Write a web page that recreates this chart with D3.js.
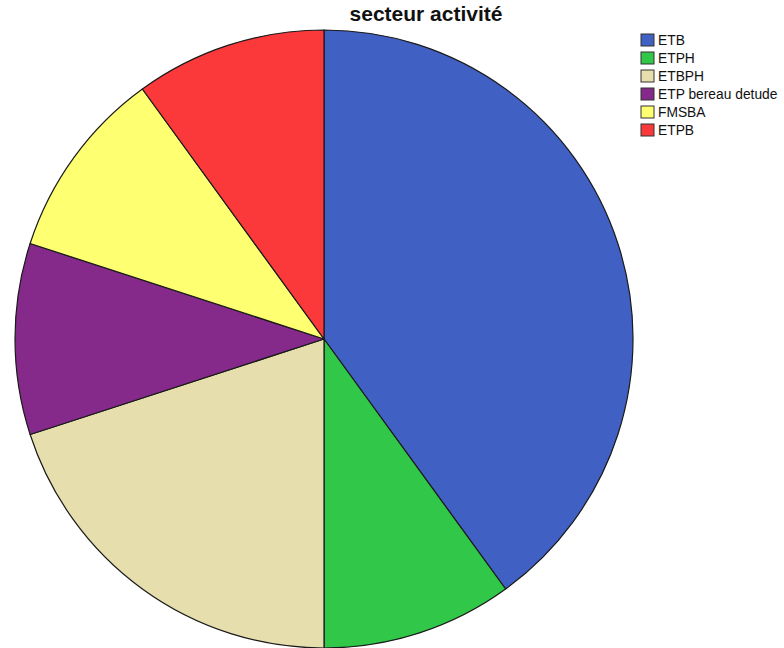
<!DOCTYPE html>
<html>
<head>
<meta charset="utf-8">
<script src="https://cdn.jsdelivr.net/npm/d3@7"></script>
<style>
  body { margin: 0; background: #fff; }
  svg { display: block; }
</style>
</head>
<body>
<svg id="chart" width="784" height="648"></svg>
<script>
// Sector categories and counts
const categories = ["ETB", "ETPH", "ETBPH", "ETP bereau detude", "FMSBA", "ETPB"];
const counts = [4, 1, 2, 1, 1, 1];
const colors = ["#4160c4", "#31c84a", "#e6dfad", "#852a8a", "#ffff72", "#fb393b"];
const title = "secteur activité";

const svg = d3.select("#chart");
const cx = 324, cy = 339, radius = 309;

const pie = d3.pie().sort(null).value(d => d.value);
const arc = d3.arc().innerRadius(0).outerRadius(radius);
const color = d3.scaleOrdinal().domain(categories).range(colors);

const data = categories.map((c, i) => ({ name: c, value: counts[i] }));

svg.append("g")
  .attr("transform", `translate(${cx},${cy})`)
  .selectAll("path")
  .data(pie(data))
  .join("path")
  .attr("d", arc)
  .attr("fill", d => color(d.data.name))
  .attr("stroke", "#1a1a1a")
  .attr("stroke-width", 1.2)
  .attr("stroke-linejoin", "round");

svg.append("text")
  .attr("x", 426)
  .attr("y", 21)
  .attr("text-anchor", "middle")
  .attr("font-family", "Liberation Sans, Arial, sans-serif")
  .attr("font-weight", "bold")
  .attr("font-size", 21)
  .attr("fill", "#111")
  .text(title);

// Legend
const legend = svg.append("g").attr("transform", "translate(641,34)");
const rows = legend.selectAll("g")
  .data(categories)
  .join("g")
  .attr("transform", (d, i) => `translate(0,${i * 18})`);
rows.append("rect")
  .attr("width", 13)
  .attr("height", 12)
  .attr("fill", d => color(d))
  .attr("stroke", "#333")
  .attr("stroke-width", 1);
rows.append("text")
  .attr("x", 17)
  .attr("y", 11)
  .attr("font-family", "Liberation Sans, Arial, sans-serif")
  .attr("font-size", 13.8)
  .attr("fill", "#111")
  .text(d => d);
</script>
</body>
</html>
